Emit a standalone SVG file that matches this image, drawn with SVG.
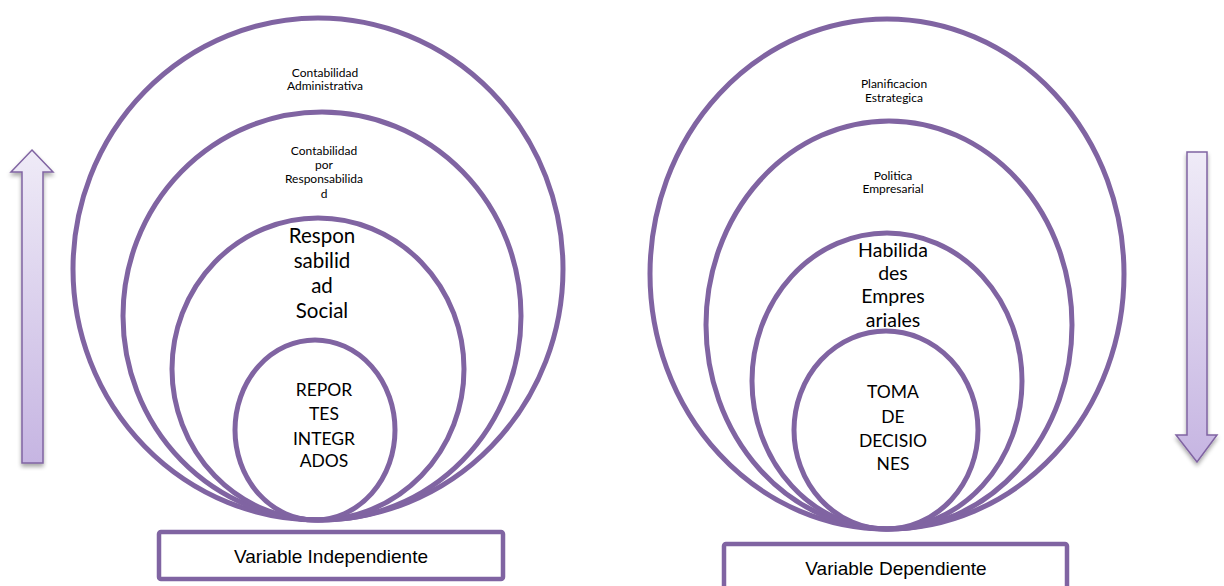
<svg xmlns="http://www.w3.org/2000/svg" width="1224" height="586" viewBox="0 0 1224 586">
  <defs>
    <linearGradient id="arrowFill" x1="0" y1="0" x2="0" y2="1">
      <stop offset="0" stop-color="#efebf7"/>
      <stop offset="1" stop-color="#c6b5e2"/>
    </linearGradient>
    <filter id="shadow" x="-50%" y="-10%" width="200%" height="120%">
      <feGaussianBlur in="SourceAlpha" stdDeviation="2"/>
      <feOffset dx="0" dy="3" result="b"/>
      <feComponentTransfer><feFuncA type="linear" slope="0.35"/></feComponentTransfer>
      <feMerge><feMergeNode/><feMergeNode in="SourceGraphic"/></feMerge>
    </filter>
  </defs>
  <style>
    .ring { fill: none; stroke: #8064a2; stroke-width: 5; }
    .box { fill: #ffffff; stroke: #8064a2; stroke-width: 4.5; }
    .arrow { fill: url(#arrowFill); stroke: #8064a2; stroke-width: 1.5; stroke-linejoin: miter; }
    .t { font-family: Lato, "Liberation Sans", sans-serif; fill: #000000; text-anchor: middle; }
    .b { font-family: "Liberation Sans", Arial, sans-serif; fill: #000000; text-anchor: middle; font-size: 19px; }
    .s { font-size: 12px; }
    .m { font-size: 17.5px; }
    .l { font-size: 20.5px; }
    .v { font-size: 19.5px; }
  </style>

  <rect width="1224" height="586" fill="#ffffff"/>

  <!-- direction arrows -->
  <g id="arrow-up" filter="url(#shadow)">
    <polygon class="arrow" points="32,150 53,172 43,172 43,463 22,463 22,172 11,172"/>
  </g>
  <g id="arrow-down" filter="url(#shadow)">
    <polygon class="arrow" points="1187,152 1207,152 1207,435 1217,435 1197,462 1176,435 1187,435"/>
  </g>

  <!-- left nest: independent variable -->
  <g id="contabilidad-administrativa">
    <ellipse class="ring" cx="318" cy="269" rx="245" ry="251"/>
    <text class="t s" x="325" y="77">Contabilidad</text>
    <text class="t s" x="325" y="90">Administrativa</text>
  </g>
  <g id="contabilidad-responsabilidad">
    <ellipse class="ring" cx="322" cy="316" rx="199" ry="204"/>
    <text class="t s" x="324" y="155">Contabilidad</text>
    <text class="t s" x="324" y="169">por</text>
    <text class="t s" x="324" y="183">Responsabilida</text>
    <text class="t s" x="324" y="198">d</text>
  </g>
  <g id="responsabilidad-social">
    <ellipse class="ring" cx="318" cy="369" rx="146" ry="151"/>
    <text class="t l" x="322" y="243">Respon</text>
    <text class="t l" x="322" y="268">sabilid</text>
    <text class="t l" x="322" y="293">ad</text>
    <text class="t l" x="322" y="318">Social</text>
  </g>
  <g id="reportes-integrados">
    <ellipse class="ring" cx="315" cy="430" rx="80" ry="90"/>
    <text class="t m" x="324" y="396">REPOR</text>
    <text class="t m" x="324" y="420">TES</text>
    <text class="t m" x="324" y="445">INTEGR</text>
    <text class="t m" x="324" y="467">ADOS</text>
  </g>

  <!-- right nest: dependent variable -->
  <g id="planificacion-estrategica">
    <ellipse class="ring" cx="887" cy="274" rx="237" ry="255"/>
    <text class="t s" x="894" y="88">Planificacion</text>
    <text class="t s" x="894" y="102">Estrategica</text>
  </g>
  <g id="politica-empresarial">
    <ellipse class="ring" cx="889" cy="325" rx="183" ry="204"/>
    <text class="t s" x="893" y="180">Politica</text>
    <text class="t s" x="893" y="193">Empresarial</text>
  </g>
  <g id="habilidades-empresariales">
    <ellipse class="ring" cx="887" cy="381" rx="135" ry="148"/>
    <text class="t v" x="893" y="257">Habilida</text>
    <text class="t v" x="893" y="280">des</text>
    <text class="t v" x="893" y="303">Empres</text>
    <text class="t v" x="893" y="327">ariales</text>
  </g>
  <g id="toma-de-decisiones">
    <ellipse class="ring" cx="886" cy="430" rx="92" ry="99"/>
    <text class="t m" x="893" y="398">TOMA</text>
    <text class="t m" x="893" y="423">DE</text>
    <text class="t m" x="893" y="447">DECISIO</text>
    <text class="t m" x="893" y="470">NES</text>
  </g>

  <!-- variable labels -->
  <g id="variable-independiente">
    <rect class="box" x="159" y="532" width="344" height="47" rx="2"/>
    <text class="b" x="331" y="563">Variable Independiente</text>
  </g>
  <g id="variable-dependiente">
    <rect class="box" x="724" y="544" width="343" height="60" rx="2"/>
    <text class="b" x="896" y="575">Variable Dependiente</text>
  </g>
</svg>
